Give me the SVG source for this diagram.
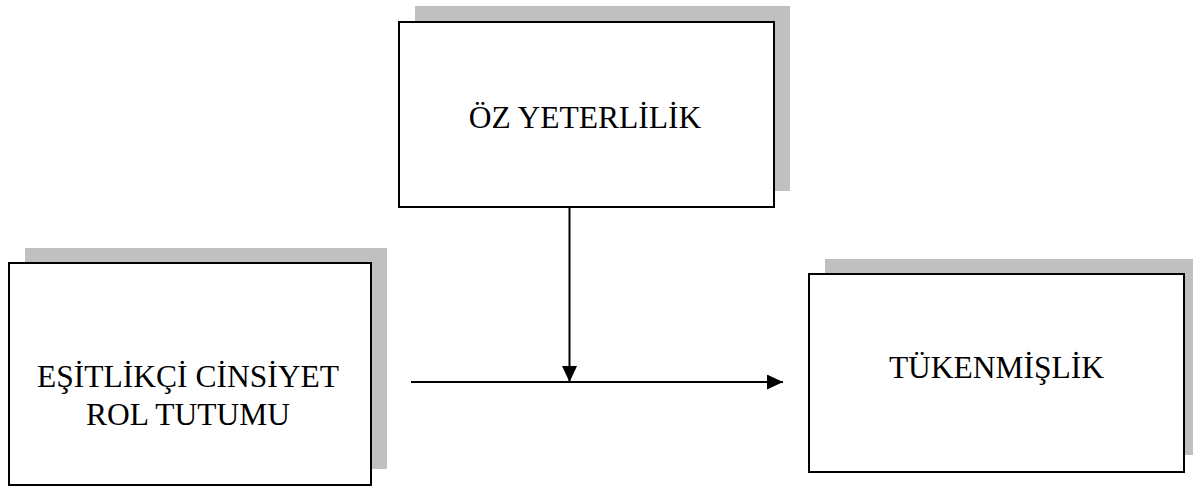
<svg xmlns="http://www.w3.org/2000/svg" width="1193" height="487" viewBox="0 0 1193 487">
  <style>
    .shadow { fill: #c0c0c0; stroke: none; }
    .box { fill: #ffffff; stroke: #000000; stroke-width: 2; }
    .label { font-family: "Liberation Serif", "Times New Roman", serif; font-size: 31.5px; fill: #000000; text-anchor: middle; }
    .link { stroke: #000000; stroke-width: 2; fill: none; }
  </style>
  <defs>
    <marker id="arrow" viewBox="0 0 16 15" refX="16" refY="7.5" markerWidth="16" markerHeight="15" markerUnits="userSpaceOnUse" orient="auto">
      <path d="M0,0 L16,7.5 L0,15 Z" fill="#000000"/>
    </marker>
  </defs>
  <rect width="1193" height="487" fill="#ffffff"/>

  <g id="oz-yeterlilik">
    <rect class="shadow" x="415" y="6" width="375" height="185"/>
    <rect class="box" x="399" y="22" width="375" height="185"/>
    <text class="label" x="585" y="128">ÖZ YETERLİLİK</text>
  </g>

  <g id="esitlikci-cinsiyet-rol-tutumu">
    <rect class="shadow" x="25" y="248" width="362" height="221"/>
    <rect class="box" x="9" y="263" width="362" height="222"/>
    <text class="label" x="188" y="387">EŞİTLİKÇİ CİNSİYET</text>
    <text class="label" x="188" y="425">ROL TUTUMU</text>
  </g>

  <g id="tukenmislik">
    <rect class="shadow" x="825" y="259" width="375" height="196"/>
    <rect class="box" x="809" y="274" width="375" height="198"/>
    <text class="label" x="996.5" y="378">TÜKENMİŞLİK</text>
  </g>

  <g id="connectors">
    <line class="link" x1="411" y1="382" x2="783" y2="382" marker-end="url(#arrow)"/>
    <line class="link" x1="569.5" y1="207" x2="569.5" y2="382" marker-end="url(#arrow)"/>
  </g>
</svg>
